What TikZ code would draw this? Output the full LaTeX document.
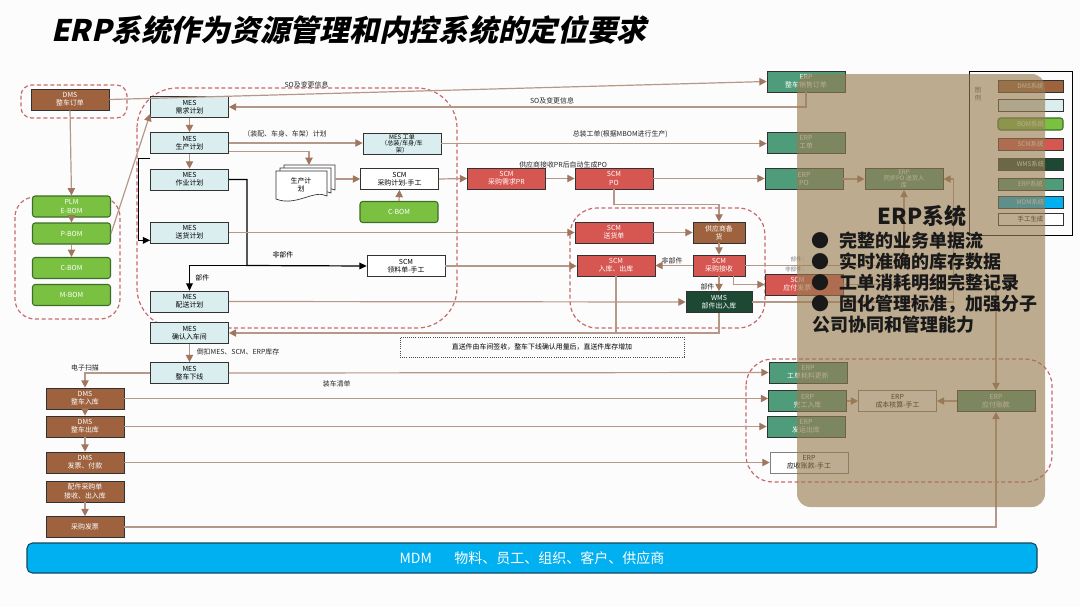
\documentclass[tikz,border=0pt]{standalone}
\usepackage{fontspec}
\setmainfont{Noto Sans CJK SC}
\newfontfamily\titlefont[FakeSlant=0.22]{Noto Sans CJK SC}
\usetikzlibrary{arrows.meta,calc}
\definecolor{bgc}{RGB}{253,252,252}
\definecolor{dmsc}{RGB}{158,98,62}
\definecolor{mesc}{RGB}{218,238,240}
\definecolor{bomc}{RGB}{122,193,66}
\definecolor{bomd}{RGB}{60,110,40}
\definecolor{scmc}{RGB}{214,86,82}
\definecolor{wmsc}{RGB}{28,72,52}
\definecolor{erpc}{RGB}{78,156,122}
\definecolor{mdmc}{RGB}{0,176,240}
\definecolor{mdmd}{RGB}{20,70,95}
\definecolor{linec}{RGB}{180,152,138}
\definecolor{arrc}{RGB}{160,118,95}
\definecolor{dashc}{RGB}{200,105,110}
\definecolor{tanc}{RGB}{152,124,81}
\definecolor{bordc}{RGB}{50,50,50}
\begin{document}
\begin{tikzpicture}[x=0.75pt,y=-0.75pt,
  box/.style={rectangle, draw=bordc, line width=0.5pt, inner sep=0pt,
    minimum width=58.5pt, minimum height=15.75pt, align=center,
    font=\fontsize{5.2}{6.2}\selectfont},
  mes/.style={box, fill=mesc, text=black},
  dms/.style={box, fill=dmsc, text=white},
  bom/.style={box, fill=bomc, text=white, draw=bomd, rounded corners=2pt, line width=0.8pt},
  scm/.style={box, fill=scmc, text=white},
  wms/.style={box, fill=wmsc, text=white},
  erp/.style={box, fill=erpc, text=white},
  man/.style={box, fill=white, text=black},
  small/.style={font=\fontsize{4.6}{5}\selectfont},
  arr/.style={draw=linec, line width=0.9pt, -{Triangle[length=5.5pt,width=5.5pt,color=arrc]}},
  ln/.style={draw=linec, line width=0.9pt},
  blk/.style={draw=black, line width=0.9pt, -{Triangle[length=5.5pt,width=5pt]}},
  lbl/.style={font=\fontsize{5.2}{6}\selectfont, text=black!85, inner sep=1pt},
  dashreg/.style={draw=dashc, line width=0.9pt, dash pattern=on 3pt off 2pt},
  lg/.style={box, minimum width=48.75pt, minimum height=9pt, font=\fontsize{4.8}{5}\selectfont},
  bigtx/.style={font=\bfseries\fontsize{13.5}{14}\selectfont, text=black!90, inner sep=0}
]
\fill[bgc] (0,0) rectangle (1080,607);
\useasboundingbox (0,0) rectangle (1080,607);

% title
\node[anchor=west, inner sep=0, font=\titlefont\bfseries\fontsize{22.3}{23}\selectfont] (title) at (51,30) {ERP系统作为资源管理和内控系统的定位要求};

% dashed regions
\draw[dashreg, rounded corners=8] (21,85) rectangle (127,118);
\draw[dashreg, rounded corners=15] (15,197) rectangle (120,319);
\draw[dashreg, rounded corners=30] (137,88) rectangle (457,328);
\draw[dashreg, rounded corners=20] (570,208) rectangle (765,328);
\draw[dashreg, rounded corners=20] (746,359) rectangle (1052,482);

% left column
\node[dms] (dmsorder) at (70,99.5) {DMS\\整车订单};
\node[bom] (plm) at (71.5,206.5) {PLM\\E-BOM};
\node[bom] (pbom) at (71.5,233.5) {P-BOM};
\node[bom] (cbom) at (71.5,268) {C-BOM};
\node[bom] (mbom) at (71.5,295) {M-BOM};

% MES column
\node[mes] (mes1) at (189.5,107) {MES\\需求计划};
\node[mes] (mes2) at (189.5,143) {MES\\生产计划};
\node[mes] (mes3) at (189.5,179.5) {MES\\作业计划};
\node[mes] (mes4) at (189.5,232.5) {MES\\送货计划};
\node[mes] (mes5) at (189.5,301.5) {MES\\配送计划};
\node[mes] (mes6) at (189.5,333) {MES\\确认入车间};
\node[mes] (mes7) at (189.5,373) {MES\\整车下线};

% middle
\node[mes, small] (mesgd) at (402,143.5) {MES 工单\\（总装/车身/车\\架）};
\foreach \dx/\dy in {8/6,4/3,0/0}{
  \filldraw[draw=bordc, fill=white, line width=0.5pt]
    (276+\dx,171-\dy) -- (327+\dx,171-\dy) -- (327+\dx,196-\dy)
    .. controls (314+\dx,189-\dy) and (296+\dx,207-\dy) .. (276+\dx,199-\dy) -- cycle;
}
\node[inner sep=0, minimum width=51pt, minimum height=22pt, align=center, font=\fontsize{5.2}{6.2}\selectfont] (doc) at (301,185) {生产计\\划};
\coordinate (doctop) at (309,165);
\node[man] (scmjh) at (399.5,179) {SCM\\采购计划-手工};
\node[bom] (cbom2) at (399,212) {C-BOM};
\node[man] (llm) at (406,266) {SCM\\领料单-手工};

\node[scm] (pr) at (506.5,178.5) {SCM\\采购需求PR};
\node[scm] (po) at (614,178.5) {SCM\\PO};
\node[scm] (scmsh) at (614,232.5) {SCM\\送货单};
\node[dms, minimum width=39pt] (bh) at (719,232.5) {供应商备\\货};
\node[scm, minimum width=39pt] (cgjs) at (719,265.5) {SCM\\采购接收};
\node[scm] (rkck) at (616,265.5) {SCM\\入库、出库};
\node[wms, minimum width=49.5pt] (wms) at (719,302) {WMS\\部件出入库};
\node[scm] (scmyf) at (804,284.5) {SCM\hspace*{10pt}\\应付发票\hspace*{10pt}};

% ERP right
\node[erp] (erpso) at (806,81.5) {ERP\\整车销售订单};
\node[erp] (erpgd) at (806,142.5) {ERP\\工单};
\node[erp] (erppo) at (804,179) {ERP\\PO};
\node[erp, small] (tbpo) at (904,179) {ERP\\同步PO 送货入\\库};

% bottom
\node[dms] (dms1) at (85,398.5) {DMS\\整车入库};
\node[dms] (dms2) at (85,426.5) {DMS\\整车出库};
\node[dms] (dms3) at (85,462.5) {DMS\\发票、付款};
\node[dms] (dms4) at (85,491.5) {配件采购单\\接收、出入库};
\node[dms] (dms5) at (85,527) {采购发票};

\node[erp] (erphl) at (808,372.5) {ERP\\工单耗料更新};
\node[erp] (erpwg) at (807.5,401) {ERP\\完工入库};
\node[erp] (erpfy) at (806,426.5) {ERP\\发运出库};
\node[man, draw=gray] (erpys) at (809,462.5) {ERP\\应收账款-手工};
\node[man, draw=gray] (cbhs) at (897.5,401) {ERP\\成本核算-手工};
\node[erp] (erpyf) at (996,401) {ERP\\应付账款};

\node[draw=black!70, densely dotted, line width=0.6pt, minimum width=213pt, minimum height=15pt, inner sep=0,
  font=\fontsize{5.2}{6}\selectfont] (note) at (542,347) {直送件由车间签收，整车下线确认用量后，直送件库存增加};

% connectors
\draw[arr] (dmsorder.east) -- node[lbl, pos=0.3, above=3pt] {SO及变更信息} (erpso.west);
\draw[arr] (erpso.south) |- node[lbl, pos=0.72, above=1pt] {SO及变更信息} (mes1.east);
\draw[arr] (dmsorder.south) -- (plm.north);
\draw[arr] (plm.south) -- (pbom.north);
\draw[arr] (pbom.south) -- (cbom.north);
\draw[arr] (pbom.east) -- ($(mes1.south west)+(0,-4)$);
\draw[arr] (mes1.south) -- (mes2.north);
\draw[arr] (mes2.south) -- (mes3.north);
\draw[arr] (mes2.east) -- node[lbl, pos=0.42, above=3pt] {（装配、车身、车架）计划} (mes2.east -| mesgd.west);
\draw[arr] ($(mes2.south east)+(0,-2)$) -| (doctop);
\draw[arr] (doc.east |- scmjh.west) -- (scmjh.west);
\draw[arr] (cbom2.north) -- (scmjh.south);
\draw[arr] (scmjh.east) -- (pr.west);
\draw[arr] (pr.east) -- node[lbl, pos=0.6, above=6pt] {供应商接收PR后自动生成PO} (po.west);
\draw[arr] (po.east) -- (po.east -| erppo.west);
\draw[arr] (erppo.east) -- (tbpo.west);
\draw[arr] (mesgd.east) -- node[lbl, pos=0.55, above=3pt] {总装工单(根据MBOM进行生产)} (mesgd.east -| erpgd.west);

% black connectors
\draw[blk] ($(mes2.south west)+(0,5)$) -- ++(-12,0) |- ($(mes4.south west)+(0,-3)$);
\coordinate (jb) at (247,265.5);
\draw[blk] (mes3.east) -| (jb) -- node[lbl, pos=0.3, above=4pt, black] {非部件} (llm.west);
\draw[blk] (jb) -| node[lbl, pos=0.75, right=3pt, black] {部件} (mes5.north);

\draw[arr] (mes4.east) -- (scmsh.west);
\draw[arr] (mes5.east) -- (wms.west);
\draw[arr] (llm.east) -- (llm.east -| rkck.west);
\draw[arr] (po.south) -- ++(0,15) -| (bh.north);
\draw[arr] (scmsh.east) -- (bh.west);
\draw[arr] (bh.south) -- (cgjs.north);
\draw[arr] (cgjs.west) -- node[lbl, above=0pt, pos=0.55] {非部件} (rkck.east);
\draw[arr] (cgjs.south) -- node[lbl, left=2pt, pos=0.7] {部件} (wms.north);
\draw[arr] ($(cgjs.south east)+(-12,0)$) |- (scmyf.west);
\draw[arr] (cgjs.east) -| (tbpo.south);
\draw[arr] (wms.east) -- ++(201,0) |- (tbpo.east);
\draw[arr] (scmyf.east) -| (erpyf.north);
\draw[ln] (rkck.south) -- (rkck.south |- mes6.east);
\draw[arr] (wms.south) |- (mes6.east);

\draw[arr] (mes6.south) -- node[lbl, right=4pt, pos=0.45, anchor=west] {倒扣MES、SCM、ERP库存} (mes7.north);
\draw[arr] (mes7.west) -| node[lbl, pos=0.6, above=2pt] {电子扫描} (dms1.north);
\draw[arr] (mes7.east) -- node[lbl, pos=0.2, below=4pt] {装车清单} (erphl.west);
\draw[arr] (dms1.south) -- (dms2.north);
\draw[arr] (dms2.south) -- (dms3.north);
\draw[arr] (dms4.south) -- (dms5.north);
\draw[arr] (dms1.east) -- (dms1.east -| erpwg.west);
\draw[arr] (dms2.east) -- (erpfy.west);
\draw[arr] (dms3.east) -- (erpys.west);
\draw[arr] (dms5.east) -| (erpyf.south);
\draw[arr] (erpwg.east) -- (cbhs.west);
\draw[arr] (erpyf.west) -- (cbhs.east);

% faint labels
\node[font=\fontsize{4.2}{5}\selectfont, text=gray, anchor=east, inner sep=1pt] (fl1) at (809,259) {部件：};
\node[font=\fontsize{4.2}{5}\selectfont, text=gray, anchor=east, inner sep=1pt] (fl2) at (809,269) {非部件：};

% legend
\draw[black, line width=0.6pt] (969,71) rectangle (1072,235);
\node[font=\fontsize{4.8}{5.6}\selectfont, align=center, text=black!70] (lgt) at (978,94) {图\\例};
\node[lg, fill=dmsc, text=white] (lg1) at (1030.5,86.5) {DMS系统};
\node[lg, fill=mesc] (lg2) at (1030.5,105.5) {};
\node[lg, fill=bomc, text=white, draw=bomd, rounded corners=2pt, line width=0.8pt] (lg3) at (1030.5,124) {BOM系统};
\node[lg, fill=scmc, text=white] (lg4) at (1030.5,144) {SCM系统};
\node[lg, fill=wmsc, text=white] (lg5) at (1030.5,164) {WMS系统};
\node[lg, fill=erpc, text=white] (lg6) at (1030.5,184.5) {ERP系统};
\node[lg, fill=mdmc, text=white] (lg7) at (1030.5,202) {MDM系统};
\node[lg, fill=white, text=black] (lg8) at (1030.5,219.5) {手工生成};

% tan overlay
\fill[tanc, opacity=0.63, rounded corners=10] (797,74) rectangle (1045,507);

% big text
\node[font=\bfseries\fontsize{16.5}{18}\selectfont, text=black!90] (erpt) at (922,216) {ERP系统};
\foreach \yy/\tt [count=\i] in {241/完整的业务单据流, 262/实时准确的库存数据, 283/工单消耗明细完整记录, 304/{固化管理标准，加强分子}}{
  \node[bigtx] (bul\i) at (820,\yy) {●};
  \node[bigtx, anchor=west] (btx\i) at (839,\yy) {\tt};
}
\node[bigtx, anchor=west] (btx5) at (812,325) {公司协同和管理能力};

% MDM bar
\node[draw=mdmd, fill=mdmc, rounded corners=4pt, line width=0.8pt, minimum width=757.5pt, minimum height=22.5pt,
  text=white, font=\fontsize{10.5}{11}\selectfont] (mdm) at (532,558) {MDM\hspace{1.6em}物料、员工、组织、客户、供应商};
\end{tikzpicture}
\end{document}
